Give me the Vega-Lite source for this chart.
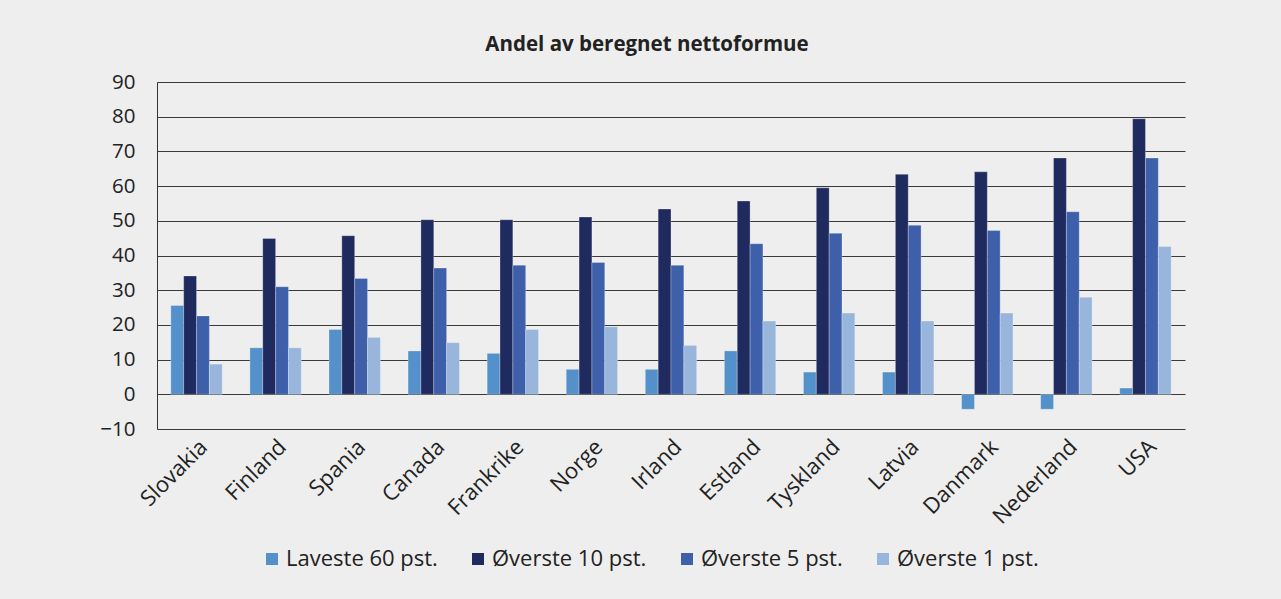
{
  "$schema": "https://vega.github.io/schema/vega-lite/v6.json",
  "width": 1028,
  "height": 347,
  "autosize": {"type": "none"},
  "padding": {"left": 157, "top": 82, "right": 96, "bottom": 170},
  "background": "#eeeeee",
  "title": {
    "text": "Andel av beregnet nettoformue",
    "font": "Open Sans",
    "fontSize": 20.5,
    "fontWeight": "bold",
    "color": "#222222",
    "anchor": "middle",
    "dx": -24,
    "offset": 17
  },
  "config": {
    "view": {"stroke": null},
    "font": "Open Sans"
  },
  "data": {
    "values": [
      {"land": "Slovakia", "gruppe": "Laveste 60 pst.", "verdi": 25.6},
      {"land": "Slovakia", "gruppe": "Øverste 10 pst.", "verdi": 34.1},
      {"land": "Slovakia", "gruppe": "Øverste 5 pst.", "verdi": 22.6},
      {"land": "Slovakia", "gruppe": "Øverste 1 pst.", "verdi": 8.7},
      {"land": "Finland", "gruppe": "Laveste 60 pst.", "verdi": 13.4},
      {"land": "Finland", "gruppe": "Øverste 10 pst.", "verdi": 44.9},
      {"land": "Finland", "gruppe": "Øverste 5 pst.", "verdi": 31.0},
      {"land": "Finland", "gruppe": "Øverste 1 pst.", "verdi": 13.4},
      {"land": "Spania", "gruppe": "Laveste 60 pst.", "verdi": 18.7},
      {"land": "Spania", "gruppe": "Øverste 10 pst.", "verdi": 45.7},
      {"land": "Spania", "gruppe": "Øverste 5 pst.", "verdi": 33.4},
      {"land": "Spania", "gruppe": "Øverste 1 pst.", "verdi": 16.4},
      {"land": "Canada", "gruppe": "Laveste 60 pst.", "verdi": 12.5},
      {"land": "Canada", "gruppe": "Øverste 10 pst.", "verdi": 50.3},
      {"land": "Canada", "gruppe": "Øverste 5 pst.", "verdi": 36.4},
      {"land": "Canada", "gruppe": "Øverste 1 pst.", "verdi": 14.9},
      {"land": "Frankrike", "gruppe": "Laveste 60 pst.", "verdi": 11.8},
      {"land": "Frankrike", "gruppe": "Øverste 10 pst.", "verdi": 50.3},
      {"land": "Frankrike", "gruppe": "Øverste 5 pst.", "verdi": 37.2},
      {"land": "Frankrike", "gruppe": "Øverste 1 pst.", "verdi": 18.7},
      {"land": "Norge", "gruppe": "Laveste 60 pst.", "verdi": 7.2},
      {"land": "Norge", "gruppe": "Øverste 10 pst.", "verdi": 51.1},
      {"land": "Norge", "gruppe": "Øverste 5 pst.", "verdi": 38.0},
      {"land": "Norge", "gruppe": "Øverste 1 pst.", "verdi": 19.5},
      {"land": "Irland", "gruppe": "Laveste 60 pst.", "verdi": 7.2},
      {"land": "Irland", "gruppe": "Øverste 10 pst.", "verdi": 53.4},
      {"land": "Irland", "gruppe": "Øverste 5 pst.", "verdi": 37.2},
      {"land": "Irland", "gruppe": "Øverste 1 pst.", "verdi": 14.1},
      {"land": "Estland", "gruppe": "Laveste 60 pst.", "verdi": 12.5},
      {"land": "Estland", "gruppe": "Øverste 10 pst.", "verdi": 55.7},
      {"land": "Estland", "gruppe": "Øverste 5 pst.", "verdi": 43.4},
      {"land": "Estland", "gruppe": "Øverste 1 pst.", "verdi": 21.1},
      {"land": "Tyskland", "gruppe": "Laveste 60 pst.", "verdi": 6.4},
      {"land": "Tyskland", "gruppe": "Øverste 10 pst.", "verdi": 59.5},
      {"land": "Tyskland", "gruppe": "Øverste 5 pst.", "verdi": 46.4},
      {"land": "Tyskland", "gruppe": "Øverste 1 pst.", "verdi": 23.4},
      {"land": "Latvia", "gruppe": "Laveste 60 pst.", "verdi": 6.4},
      {"land": "Latvia", "gruppe": "Øverste 10 pst.", "verdi": 63.4},
      {"land": "Latvia", "gruppe": "Øverste 5 pst.", "verdi": 48.7},
      {"land": "Latvia", "gruppe": "Øverste 1 pst.", "verdi": 21.1},
      {"land": "Danmark", "gruppe": "Laveste 60 pst.", "verdi": -4.3},
      {"land": "Danmark", "gruppe": "Øverste 10 pst.", "verdi": 64.1},
      {"land": "Danmark", "gruppe": "Øverste 5 pst.", "verdi": 47.2},
      {"land": "Danmark", "gruppe": "Øverste 1 pst.", "verdi": 23.4},
      {"land": "Nederland", "gruppe": "Laveste 60 pst.", "verdi": -4.3},
      {"land": "Nederland", "gruppe": "Øverste 10 pst.", "verdi": 68.1},
      {"land": "Nederland", "gruppe": "Øverste 5 pst.", "verdi": 52.6},
      {"land": "Nederland", "gruppe": "Øverste 1 pst.", "verdi": 28.0},
      {"land": "USA", "gruppe": "Laveste 60 pst.", "verdi": 1.8},
      {"land": "USA", "gruppe": "Øverste 10 pst.", "verdi": 79.4},
      {"land": "USA", "gruppe": "Øverste 5 pst.", "verdi": 68.1},
      {"land": "USA", "gruppe": "Øverste 1 pst.", "verdi": 42.6}
    ]
  },
  "mark": {"type": "bar", "stroke": "#ffffff", "strokeOpacity": 0.35, "strokeWidth": 0.8},
  "encoding": {
    "x": {
      "field": "land",
      "type": "nominal",
      "sort": null,
      "scale": {"paddingInner": 0.35, "paddingOuter": 0.175},
      "axis": {
        "title": null,
        "labelAngle": -45,
        "labelFont": "Open Sans",
        "labelFontSize": 22,
        "labelColor": "#222222",
        "labelPadding": 7,
        "ticks": false,
        "domain": false
      }
    },
    "xOffset": {
      "field": "gruppe",
      "type": "nominal",
      "sort": ["Laveste 60 pst.", "Øverste 10 pst.", "Øverste 5 pst.", "Øverste 1 pst."],
      "scale": {"paddingInner": 0, "paddingOuter": 0}
    },
    "y": {
      "field": "verdi",
      "type": "quantitative",
      "scale": {"domain": [-10, 90], "nice": false, "zero": false},
      "axis": {
        "title": null,
        "values": [-10, 0, 10, 20, 30, 40, 50, 60, 70, 80, 90],
        "labelFont": "Open Sans",
        "labelFontSize": 20.5,
        "labelColor": "#222222",
        "labelPadding": 22,
        "ticks": false,
        "domain": true,
        "domainColor": "#333333",
        "domainWidth": 1,
        "grid": true,
        "gridColor": "#3a3a3a",
        "gridWidth": 1,
        "gridOpacity": 1
      }
    },
    "color": {
      "field": "gruppe",
      "type": "nominal",
      "scale": {
        "domain": ["Laveste 60 pst.", "Øverste 10 pst.", "Øverste 5 pst.", "Øverste 1 pst."],
        "range": ["#5490c9", "#1f2a5e", "#3e5faa", "#98b6dc"]
      },
      "legend": {
        "title": null,
        "orient": "none",
        "direction": "horizontal",
        "legendX": 104,
        "legendY": 466,
        "symbolType": "square",
        "symbolSize": 144,
        "symbolStrokeWidth": 0,
        "labelFont": "Open Sans",
        "labelFontSize": 22,
        "labelColor": "#222222",
        "labelOffset": 3,
        "columnPadding": 29,
        "symbolOpacity": 1
      }
    }
  }
}
